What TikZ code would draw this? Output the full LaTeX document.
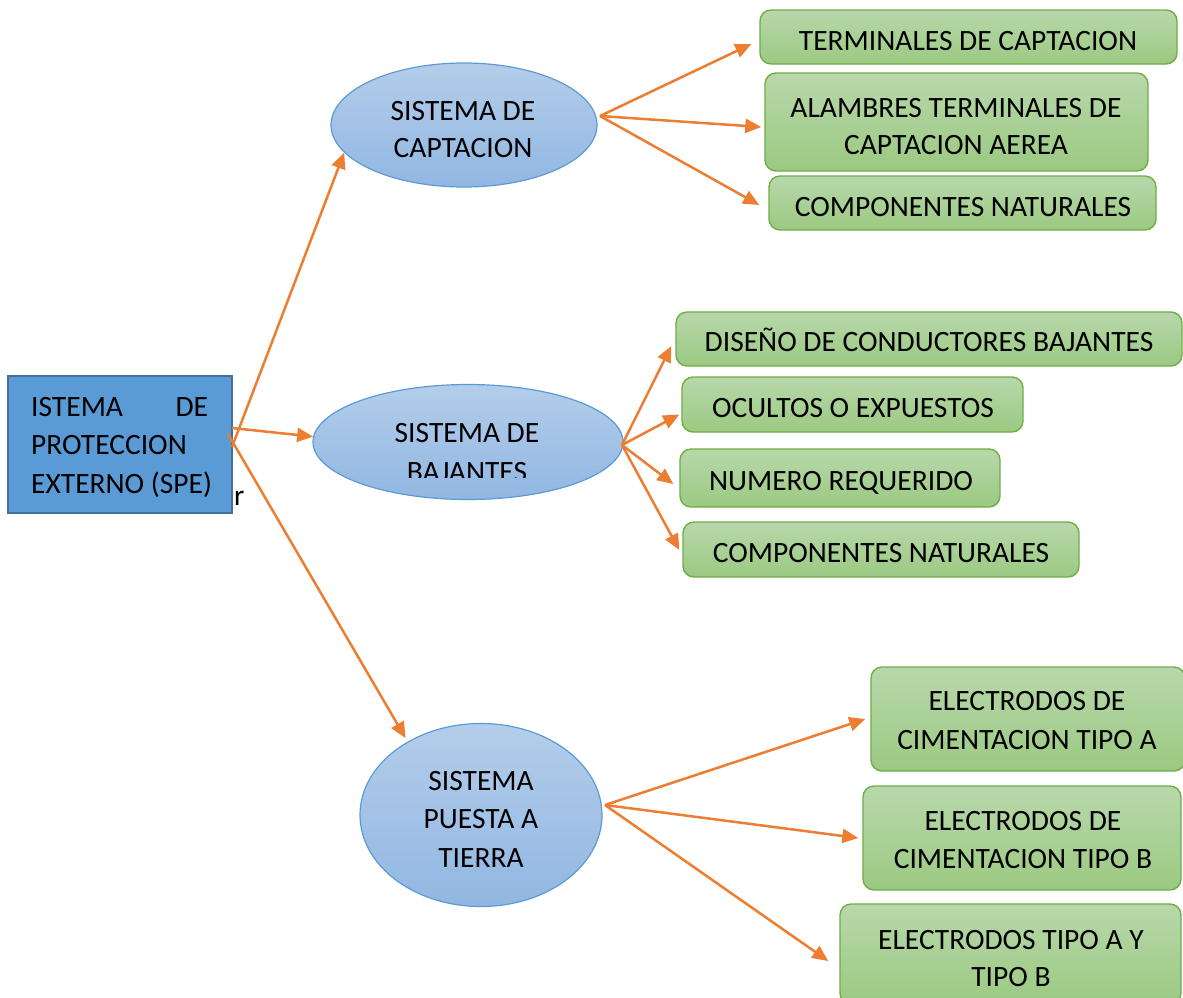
\documentclass[tikz,border=0pt]{standalone}
\usepackage{fontspec}
\setmainfont{Carlito}
\usetikzlibrary{arrows.meta,shapes.geometric,calc}
\definecolor{bluefill}{HTML}{5B9BD5}
\definecolor{blueborder}{HTML}{41719C}
\definecolor{elltop}{HTML}{B4CDEA}
\definecolor{ellbot}{HTML}{91B7E2}
\definecolor{greentop}{HTML}{B8D8AB}
\definecolor{greenbot}{HTML}{9BC981}
\definecolor{greenborder}{HTML}{70AD47}
\definecolor{arroworange}{HTML}{ED7D31}
\begin{document}
\begin{tikzpicture}[x=1pt,y=-1pt,
  font=\fontsize{29.5}{38.5}\selectfont,
  ell/.style={ellipse, draw=bluefill, line width=1.2pt, top color=elltop, bottom color=ellbot, inner sep=0pt},
  gbox/.style={rectangle, rounded corners=11pt, draw=greenborder, line width=1.4pt, top color=greentop, bottom color=greenbot, inner sep=0pt},
  txt/.style={align=center, inner sep=0pt},
  one/.style={inner sep=0pt, text height=19pt, text depth=0pt},
  conn/.style={draw=arroworange, line width=2.5pt, -{Triangle[length=16pt,width=14pt]}},
]
\useasboundingbox (0,0) rectangle (1183,997);
\clip (0,0) rectangle (1183,997);

% main box
\node[draw=blueborder, fill=bluefill, line width=1.8pt, minimum width=224pt, minimum height=137pt, inner sep=0pt] (spe) at (120,444.5) {};
\node[txt, align=left, anchor=north west] (spet) at (31,397) {\makebox[177pt][l]{ISTEMA\hfill DE}\\PROTECCION\\EXTERNO (SPE)};
\node[inner sep=0pt, anchor=base west] (rr) at (234,505) {r};

% ellipses
\node[ell, minimum width=266pt, minimum height=124pt] (e1) at (464,125) {};
\node[txt, font=\fontsize{29.5}{37}\selectfont] (e1t) at (463,130) {SISTEMA DE\\CAPTACION};
\node[ell, minimum width=310pt, minimum height=115pt] (e2) at (468,442) {};
\begin{scope}
  \clip (300,380) rectangle (640,477);
  \node[txt, font=\fontsize{29.5}{39.5}\selectfont] (e2t) at (467,452.5) {SISTEMA DE\\BAJANTES};
\end{scope}
\node[ell, minimum width=242pt, minimum height=183pt] (e3) at (481,815) {};
\node[txt] (e3t) at (481,819) {SISTEMA\\PUESTA A\\TIERRA};

% green boxes
\node[gbox, minimum width=417pt, minimum height=54pt] (g1) at (968.5,37) {};
\node[one] (g1t) at (968,41) {TERMINALES DE CAPTACION};
\node[gbox, minimum width=383pt, minimum height=98pt] (g2) at (956.5,122) {};
\node[txt, font=\fontsize{29.5}{37.5}\selectfont] (g2t) at (956,126.5) {ALAMBRES TERMINALES DE\\CAPTACION AEREA};
\node[gbox, minimum width=387pt, minimum height=54pt] (g3) at (962.5,203) {};
\node[one] (g3t) at (963,207) {COMPONENTES NATURALES};

\node[gbox, minimum width=506pt, minimum height=54pt] (g4) at (929,339) {};
\node[one] (g4t) at (929,342) {DISEÑO DE CONDUCTORES BAJANTES};
\node[gbox, minimum width=341pt, minimum height=55pt] (g5) at (852.5,404.5) {};
\node[one] (g5t) at (853,408) {OCULTOS O EXPUESTOS};
\node[gbox, minimum width=320pt, minimum height=58pt] (g6) at (840,478) {};
\node[one] (g6t) at (841,481) {NUMERO REQUERIDO};
\node[gbox, minimum width=396pt, minimum height=55pt] (g7) at (881,549.5) {};
\node[one] (g7t) at (881,553) {COMPONENTES NATURALES};

\node[gbox, minimum width=314pt, minimum height=104pt] (g8) at (1028,719) {};
\node[txt] (g8t) at (1027,720.5) {ELECTRODOS DE\\CIMENTACION TIPO A};
\node[gbox, minimum width=318pt, minimum height=104pt] (g9) at (1022,838) {};
\node[txt] (g9t) at (1023,840) {ELECTRODOS DE\\CIMENTACION TIPO B};
\node[gbox, minimum width=341pt, minimum height=100pt] (g10) at (1010.5,954) {};
\node[txt, font=\fontsize{29.5}{37}\selectfont] (g10t) at (1011,958.5) {ELECTRODOS TIPO A Y\\TIPO B};

% connectors
\coordinate (s1) at (232,447);
\coordinate (s2) at (232,428);
\coordinate (s3) at (228,434);
\coordinate (c1) at (600,116);
\coordinate (c2) at (622,445);
\coordinate (c3) at (605,805);

\draw[conn] (s1) -- (e1.193);
\draw[conn] (s2) -- (e2.178);
\draw[conn, shorten >=4pt] (s3) -- (e3.135);

\draw[conn] (c1) -- ($(g1.west)+(-8,7)$);
\draw[conn] (c1) -- ($(g2.west)+(-3,5)$);
\draw[conn] (c1) -- ($(g3.west)+(-9,2)$);

\draw[conn] (c2) -- ($(g4.west)+(-4,7)$);
\draw[conn] (c2) -- ($(g5.west)+(-2,10)$);
\draw[conn] (c2) -- ($(g6.west)+(-6,6)$);
\draw[conn] (c2) -- ($(g7.west)+(-3,0.5)$);

\draw[conn] (c3) -- ($(g8.west)+(-5,0)$);
\draw[conn] (c3) -- ($(g9.west)+(-4,0)$);
\draw[conn] (c3) -- ($(g10.west)+(-11,7)$);
\end{tikzpicture}
\end{document}
